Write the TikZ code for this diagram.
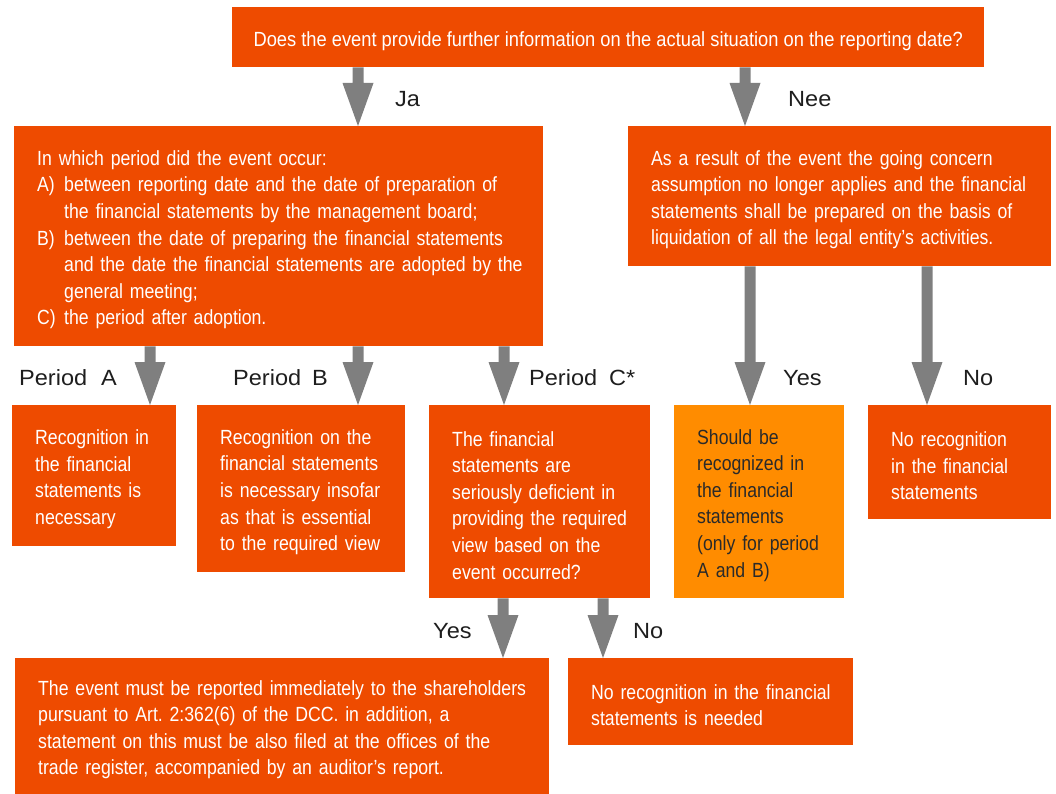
\documentclass[tikz,border=0pt]{standalone}
\usepackage{fontspec}
\setmainfont{Liberation Sans}
\newfontfamily\boxfont[FakeStretch=0.862]{Liberation Sans}
\newfontfamily\topfont[FakeStretch=0.893]{Liberation Sans}
\newfontfamily\lblfont[FakeStretch=1.07]{Liberation Sans}
\usetikzlibrary{calc}
\frenchspacing
\definecolor{ored}{HTML}{EE4B00}
\definecolor{oorange}{HTML}{FF8C00}
\definecolor{agray}{HTML}{7F7F7F}
\definecolor{ltext}{HTML}{1E1E1E}
\definecolor{dtext}{HTML}{2A2A2A}
\tikzset{
  box/.style={fill=ored, text=white, anchor=north west, inner xsep=0pt, inner ysep=0pt,
    align=left, font=\boxfont\fontsize{20.5}{26.6}\selectfont,
    execute at begin node={\leftskip=23pt\rule{0pt}{22pt}}},
  topbox/.style={fill=ored, text=white, anchor=north west, inner sep=0pt,
    align=center, font=\topfont\fontsize{20.5}{26.6}\selectfont,
    execute at begin node={\rule{0pt}{22pt}}},
  lightbox/.style={box, fill=oorange, text=dtext},
  lbl/.style={anchor=base west, inner sep=0pt, text=ltext, font=\lblfont\fontsize{22}{26}\selectfont},
}
\newcommand{\garrow}[3]{%
  \fill[agray] let \p1=(#2.south), \p2=(#3.north) in
    ({#1pt-5.5pt},\y1) -- ({#1pt+5.5pt},\y1) -- ({#1pt+5.5pt},\y2+43pt)
    -- ({#1pt+15.5pt},\y2+43pt) -- ({#1pt},\y2) -- ({#1pt-15.5pt},\y2+43pt)
    -- ({#1pt-5.5pt},\y2+43pt) -- cycle;}
\newcommand{\itm}[1]{\makebox[27pt][l]{#1}}
\newcommand{\ind}{\hspace*{27pt}}
\begin{document}
\begin{tikzpicture}[x=1pt,y=-1pt]
\useasboundingbox (0,0) rectangle (1056,794);

\node[topbox, minimum width=752pt, minimum height=60pt] (top) at (232,7)
  {Does the event provide further information on the actual situation on the reporting date?};

\node[box, text width=529pt, minimum height=220pt] (period) at (14,126)
  {In which period did the event occur:\\
   \itm{A)}between reporting date and the date of preparation of\\
   \ind the financial statements by the management board;\\
   \itm{B)}between the date of preparing the financial statements\\
   \ind and the date the financial statements are adopted by the\\
   \ind general meeting;\\
   \itm{C)}the period after adoption.};

\node[box, text width=423pt, minimum height=140pt] (liq) at (628,126)
  {As a result of the event the going concern\\
   assumption no longer applies and the financial\\
   statements shall be prepared on the basis of\\
   liquidation of all the legal entity’s activities.};

\node[box, text width=164pt, minimum height=141pt] (pa) at (12,405)
  {Recognition in\\ the financial\\ statements is\\ necessary};

\node[box, text width=208pt, minimum height=167pt] (pb) at (197,405)
  {Recognition on the\\ financial statements\\ is necessary insofar\\ as that is essential\\ to the required view};

\node[box, text width=221pt, minimum height=193pt] (pc) at (429,405)
  {The financial\\ statements are\\ seriously deficient in\\ providing the required\\ view based on the\\ event occurred?};

\node[lightbox, text width=170pt, minimum height=193pt] (should) at (674,405)
  {Should be\\ recognized in\\ the financial\\ statements\\ (only for period\\ A and B)};

\node[box, text width=183pt, minimum height=114pt] (norec) at (868,405)
  {No recognition\\ in the financial\\ statements};

\node[box, text width=534pt, minimum height=136pt] (report) at (15,658)
  {The event must be reported immediately to the shareholders\\
   pursuant to Art.\ 2:362(6) of the DCC. in addition, a\\
   statement on this must be also filed at the offices of the\\
   trade register, accompanied by an auditor’s report.};

\node[box, text width=285pt, minimum height=87pt] (needed) at (568,658)
  {No recognition in the financial\\ statements is needed};

% connectors
\garrow{358}{top}{period}
\garrow{745}{top}{liq}
\garrow{150}{period}{pa}
\garrow{358}{period}{pb}
\garrow{504}{period}{pc}
\garrow{750}{liq}{should}
\garrow{927}{liq}{norec}
\garrow{503}{pc}{report}
\garrow{603}{pc}{needed}

% labels
\node[lbl] (lja) at (395,107) {Ja};
\node[lbl] (lnee) at (788,107) {Nee};
\node[lbl] (lpa) at (19,385) {Period\hspace{14pt}A};
\node[lbl] (lpb) at (233,385) {Period\hspace{11pt}B};
\node[lbl] (lpc) at (529,385) {Period\hspace{12pt}C*};
\node[lbl] (lyes) at (783,385) {Yes};
\node[lbl] (lno) at (963,385) {No};
\node[lbl] (lyes2) at (433,638) {Yes};
\node[lbl] (lno2) at (633,638) {No};
\end{tikzpicture}
\end{document}
